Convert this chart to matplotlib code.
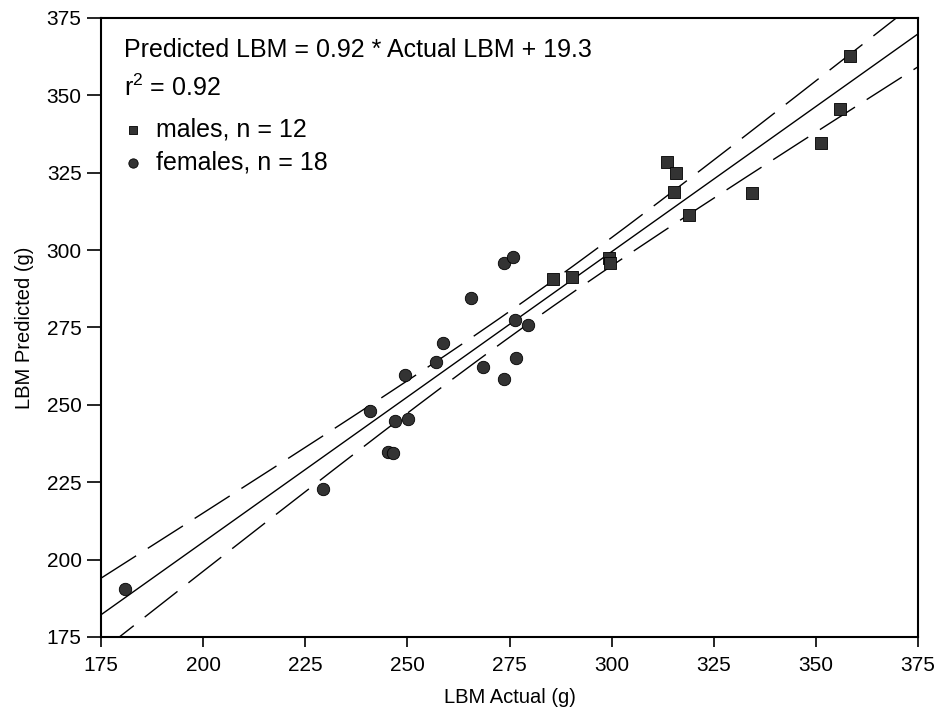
import numpy as np
import matplotlib
matplotlib.use("Agg")
import matplotlib.pyplot as plt

plt.rcParams["font.family"] = ["Liberation Sans", "DejaVu Sans"]
plt.rcParams["mathtext.fontset"] = "custom"
plt.rcParams["mathtext.rm"] = "Liberation Sans"

# males (squares)
males_actual = [358.4, 355.8, 351.2, 334.4, 318.9, 313.6, 315.8, 315.3,
                299.4, 299.6, 290.4, 285.6]
males_pred = [362.8, 345.5, 334.6, 318.5, 311.4, 328.5, 325.0, 318.8,
              297.5, 295.8, 291.2, 290.7]

# females (circles)
females_actual = [181.0, 229.3, 240.9, 245.3, 246.5, 247.0, 250.2, 249.4,
                  257.0, 258.7, 265.6, 268.5, 273.7, 276.6, 273.7, 275.9,
                  276.3, 279.5]
females_pred = [190.6, 222.9, 248.1, 234.9, 234.3, 244.9, 245.5, 259.7,
                263.9, 270.1, 284.6, 262.3, 258.4, 265.2, 295.9, 297.8,
                277.5, 275.9]

x = np.array(males_actual + females_actual)
y = np.array(males_pred + females_pred)

# regression + 95% confidence band of the mean
slope, icpt = np.polyfit(x, y, 1)
n = len(x)
resid = y - (slope * x + icpt)
s = np.sqrt((resid ** 2).sum() / (n - 2))
sxx = ((x - x.mean()) ** 2).sum()
t975 = 2.048
xs = np.linspace(175, 375, 200)
fit = slope * xs + icpt
half = t975 * s * np.sqrt(1 / n + (xs - x.mean()) ** 2 / sxx)

fig = plt.figure(figsize=(9.41, 7.17), dpi=100)
ax = fig.add_axes([0.1073, 0.1116, 0.8683, 0.8633])

ax.plot(xs, fit, color="black", lw=1.0)
ax.plot(xs, fit + half, color="black", lw=1.0, dashes=(30, 10))
ax.plot(xs, fit - half, color="black", lw=1.0, dashes=(30, 10))

sq = ax.scatter(males_actual, males_pred, marker="s", s=70, facecolor="#333333",
                edgecolor="black", linewidth=0.6, zorder=3)
ci = ax.scatter(females_actual, females_pred, marker="o", s=80, facecolor="#333333",
                edgecolor="black", linewidth=0.6, zorder=3)

ax.set_xlim(175, 375)
ax.set_ylim(175, 375)
ax.set_xticks(np.arange(175, 376, 25))
ax.set_yticks(np.arange(175, 376, 25))
ax.tick_params(direction="out", width=1.2, labelsize=15)
ax.tick_params(axis="x", length=7, pad=7)
ax.tick_params(axis="y", length=10, pad=4)
for sp in ax.spines.values():
    sp.set_linewidth(1.5)

ax.set_xlabel("LBM Actual (g)", fontsize=14.5, labelpad=9)
ax.set_ylabel("LBM Predicted (g)", fontsize=14.5, labelpad=9)

ax.text(0.028, 0.967, "Predicted LBM = 0.92 * Actual LBM + 19.3", transform=ax.transAxes,
        fontsize=18, va="top", ha="left")
ax.text(0.028, 0.908, "r$^2$ = 0.92", transform=ax.transAxes,
        fontsize=18, va="top", ha="left")
ax.legend([sq, ci], ["males, n = 12", "females, n = 18"], loc="upper left",
          bbox_to_anchor=(0.006, 0.864), frameon=False, fontsize=18,
          handletextpad=0.4, labelspacing=0.38, markerscale=0.75, handlelength=1.0,
          borderaxespad=0.2)

fig.savefig("out.png", dpi=100)
